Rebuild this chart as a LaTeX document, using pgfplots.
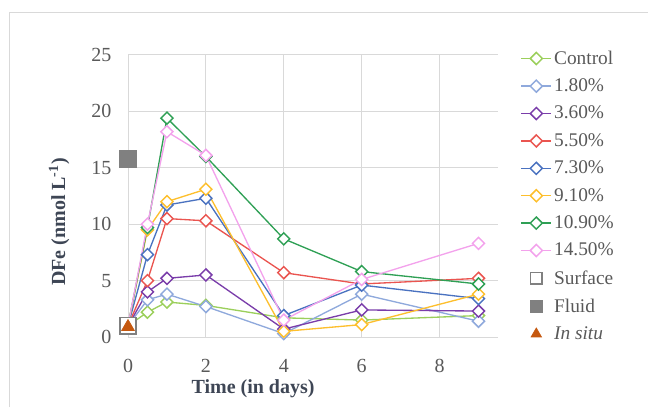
\documentclass[border=0pt]{standalone}
\usepackage{pgfplots}
\pgfplotsset{compat=1.18}
\usepackage{fontspec}
\setmainfont{Liberation Serif}
\definecolor{cCtrl}{HTML}{9BCF5B}
\definecolor{cA}{HTML}{8FA9DC}
\definecolor{cB}{HTML}{7A3DAA}
\definecolor{cC}{HTML}{EA5550}
\definecolor{cD}{HTML}{4A72C0}
\definecolor{cE}{HTML}{FDBF2D}
\definecolor{cF}{HTML}{2FA055}
\definecolor{cG}{HTML}{F3A2EC}
\definecolor{cGrey}{HTML}{808080}
\definecolor{cTri}{HTML}{C5580F}
\definecolor{cGrid}{HTML}{D9D9D9}
\definecolor{cTick}{HTML}{595959}
\definecolor{cLab}{HTML}{3E4655}
\begin{document}
\begin{tikzpicture}
\path[use as bounding box] (0,0) rectangle (486pt,305.25pt);
\draw[cGrid, line width=0.75pt] (6.75pt,0) -- (6.75pt,295.5pt) -- (486pt,295.5pt);
\begin{axis}[
  at={(96pt,52.5pt)}, anchor=south west,
  scale only axis, width=277.5pt, height=211.5pt,
  xmin=0, xmax=9.5, ymin=0, ymax=25,
  xtick={0,2,4,6,8}, ytick={0,5,10,15,20,25},
  grid=major, major grid style={cGrid, line width=0.75pt},
  axis line style={draw=none},
  tick style={draw=none},
  /pgf/number format/assume math mode=true,
  tick label style={font=\fontsize{15}{18}\selectfont, text=cTick},
  xticklabel style={yshift=-13pt},
  yticklabel style={xshift=-9pt},
  clip=false,
  xlabel={\textbf{Time (in days)}},
  ylabel={\textbf{DFe (nmol L\textsuperscript{-1})}},
  label style={font=\fontsize{15}{18}\selectfont, text=cLab},
  xlabel style={at={(rel axis cs:0.338,-0.185)}, anchor=center},
  ylabel style={at={(rel axis cs:-0.186,0.408)}, anchor=center},
  legend cell align=left,
  legend style={draw=none, fill=none, at={(rel axis cs:1.06,1.023)}, anchor=north west,
    font=\fontsize{14.5}{17}\selectfont, text=cTick, row sep=6.4pt, inner sep=0pt,
    nodes={inner sep=1.5pt}},
  legend image code/.code={\draw[mark repeat=2,mark phase=2,#1] plot coordinates {(0cm,0cm) (0.4cm,0cm) (0.8cm,0cm)};},
  every axis plot/.append style={line width=1.0pt, mark=square*, mark size=3.2pt, mark options={rotate=45, fill=white, solid, line width=1.1pt}},
]
\addplot[cCtrl] coordinates {(0,1.0) (0.5,2.2) (1,3.1) (2,2.8) (4,1.7) (6,1.5) (9,1.9)};
\addlegendentry{Control}
\addplot[cA] coordinates {(0,1.0) (0.5,3.3) (1,3.8) (2,2.7) (4,0.3) (6,3.8) (9,1.4)};
\addlegendentry{1.80\%}
\addplot[cB] coordinates {(0,1.0) (0.5,4.0) (1,5.2) (2,5.5) (4,0.7) (6,2.4) (9,2.3)};
\addlegendentry{3.60\%}
\addplot[cC] coordinates {(0,1.0) (0.5,5.0) (1,10.5) (2,10.3) (4,5.7) (6,4.7) (9,5.2)};
\addlegendentry{5.50\%}
\addplot[cD] coordinates {(0,1.0) (0.5,7.3) (1,11.7) (2,12.3) (4,1.9) (6,4.6) (9,3.4)};
\addlegendentry{7.30\%}
\addplot[cE] coordinates {(0,1.0) (0.5,9.5) (1,12.0) (2,13.1) (4,0.5) (6,1.1) (9,3.8)};
\addlegendentry{9.10\%}
\addplot[cF] coordinates {(0,1.0) (0.5,9.7) (1,19.4) (2,16.0) (4,8.7) (6,5.8) (9,4.7)};
\addlegendentry{10.90\%}
\addplot[cG] coordinates {(0,1.0) (0.5,10.0) (1,18.2) (2,16.1) (4,1.5) (6,5.1) (9,8.3)};
\addlegendentry{14.50\%}
\addplot[only marks, mark=square*, mark size=6.2pt, mark options={rotate=0, fill=white, draw=cGrey, line width=1.2pt}, legend image post style={mark size=4.3pt}] coordinates {(0,1.0)};
\addlegendentry{Surface}
\addplot[only marks, mark=square*, mark size=6.2pt, mark options={rotate=0, fill=cGrey, draw=cGrey, line width=0.8pt}, legend image post style={mark size=4.3pt}] coordinates {(0,15.8)};
\addlegendentry{Fluid}
\addplot[only marks, mark=triangle*, mark size=5.5pt, mark options={rotate=0, fill=cTri, draw=cTri, line width=0.5pt}, legend image post style={mark size=4.5pt}] coordinates {(0,0.9)};
\addlegendentry{\textit{In situ}}
\end{axis}
\end{tikzpicture}
\end{document}
